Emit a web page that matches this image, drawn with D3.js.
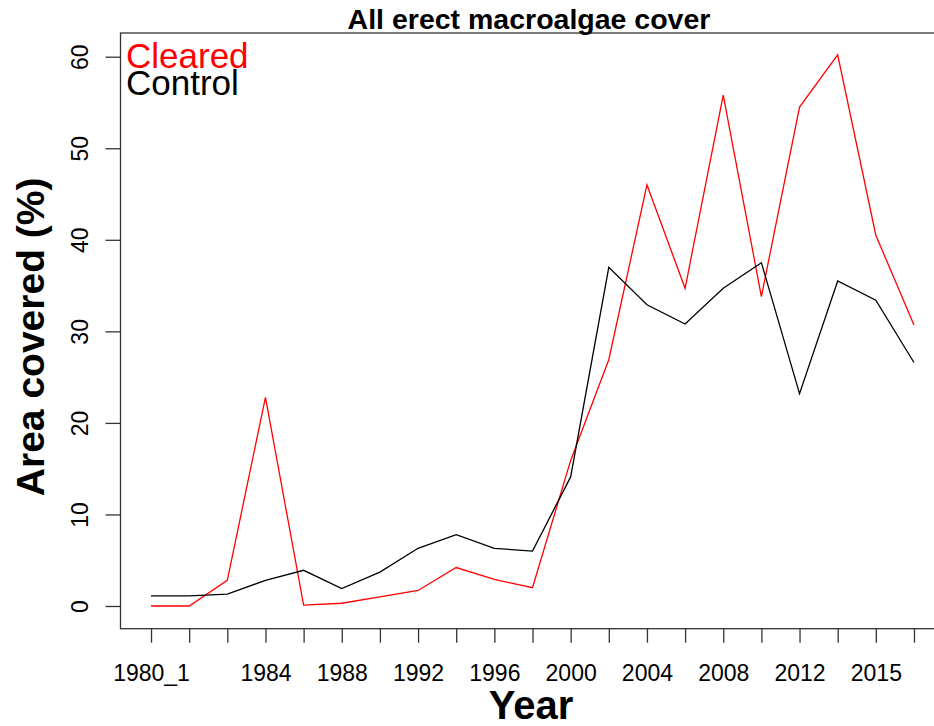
<!DOCTYPE html>
<html>
<head>
<meta charset="utf-8">
<script src="https://cdn.jsdelivr.net/npm/d3@7"></script>
<style>
  body { margin: 0; background: #fff; }
  svg { font-family: "Liberation Sans", Arial, sans-serif; }
</style>
</head>
<body>
<svg id="chart" width="934" height="726"></svg>
<script>
'use strict';

// survey periods along the x axis (one point each)
const periods = ['1980_1', '1980_2', '1982', '1984', '1986', '1988', '1990', '1992', '1994',
  '1996', '1998', '2000', '2002', '2004', '2006', '2008', '2010', '2012', '2014', '2015', '2016'];
// labels R actually managed to print (the rest overlap and are dropped)
const shownLabels = ['1980_1', '1984', '1988', '1992', '1996', '2000', '2004', '2008', '2012', '2015'];
const yTicks = [0, 10, 20, 30, 40, 50, 60];

const cleared = [0, 0, 2.8, 22.8, 0.1, 0.3, 1.0, 1.7, 4.2, 2.9, 2.0, 15.9,
  26.9, 46.0, 34.7, 55.8, 33.8, 54.5, 60.2, 40.5, 30.7];
const control = [1.1, 1.1, 1.3, 2.8, 3.9, 1.9, 3.7, 6.3, 7.8, 6.3, 6.0, 14.1,
  37.0, 32.9, 30.8, 34.7, 37.5, 23.2, 35.5, 33.4, 26.6];

const series = [
  { name: 'Cleared', values: cleared, color: '#ff0000' },
  { name: 'Control', values: control, color: '#000000' },
];

const plotL = 120.5, plotR = 944.5, plotT = 33, plotB = 628.7;

const svg = d3.select('#chart');

const x = d3.scaleLinear()
  .domain([-0.8, periods.length - 1 + 0.8])
  .range([plotL, plotR]);

const y = d3.scaleLinear()
  .domain([-2.48, 62.59])
  .range([plotB, plotT]);

// plot box
svg.append('rect')
  .attr('x', plotL)
  .attr('y', plotT)
  .attr('width', plotR - plotL)
  .attr('height', plotB - plotT)
  .attr('fill', 'none')
  .attr('stroke', '#333')
  .attr('stroke-width', 1.3);

// x axis
const xAxis = svg.append('g')
  .attr('transform', `translate(0,${plotB})`)
  .call(d3.axisBottom(x)
    .tickValues(d3.range(periods.length))
    .tickSize(14)
    .tickFormat((i) => shownLabels.includes(periods[i]) ? periods[i] : ''));
xAxis.select('.domain').remove();
xAxis.selectAll('line').attr('stroke', '#333').attr('stroke-width', 1.3);
xAxis.selectAll('text')
  .attr('y', 52)
  .attr('dy', null)
  .attr('fill', '#000')
  .attr('font-size', '23px')
  .attr('font-family', '"Liberation Sans", Arial, sans-serif');

// y axis, labels parallel to the axis like base R
const yAxis = svg.append('g')
  .attr('transform', `translate(${plotL},0)`)
  .call(d3.axisLeft(y).tickValues(yTicks).tickSize(15));
yAxis.select('.domain').remove();
yAxis.selectAll('line').attr('stroke', '#333').attr('stroke-width', 1.3);
yAxis.selectAll('text')
  .attr('transform', 'rotate(-90)')
  .attr('x', 0)
  .attr('y', -33)
  .attr('dy', null)
  .attr('text-anchor', 'middle')
  .attr('fill', '#000')
  .attr('font-size', '23px')
  .attr('font-family', '"Liberation Sans", Arial, sans-serif');

// lines
const line = d3.line()
  .x((d, i) => x(i))
  .y((d) => y(d));

svg.selectAll('path.series')
  .data(series)
  .enter()
  .append('path')
  .attr('class', 'series')
  .attr('d', (d) => line(d.values))
  .attr('fill', 'none')
  .attr('stroke', (d) => d.color)
  .attr('stroke-width', 1.3);

// legend (text only)
svg.selectAll('text.legend')
  .data(series)
  .enter()
  .append('text')
  .attr('class', 'legend')
  .attr('x', 126)
  .attr('y', (d, i) => 68 + i * 27)
  .attr('font-size', '35px')
  .attr('fill', (d) => d.color)
  .text((d) => d.name);

// titles
svg.append('text')
  .attr('x', 529)
  .attr('y', 29)
  .attr('text-anchor', 'middle')
  .attr('font-size', '28.5px')
  .attr('font-weight', 'bold')
  .text('All erect macroalgae cover');

svg.append('text')
  .attr('x', 531)
  .attr('y', 719)
  .attr('text-anchor', 'middle')
  .attr('font-size', '40px')
  .attr('font-weight', 'bold')
  .text('Year');

svg.append('text')
  .attr('transform', `translate(44,${(plotT + plotB) / 2 + 6}) rotate(-90)`)
  .attr('text-anchor', 'middle')
  .attr('font-size', '39px')
  .attr('font-weight', 'bold')
  .text('Area covered (%)');
</script>
</body>
</html>
